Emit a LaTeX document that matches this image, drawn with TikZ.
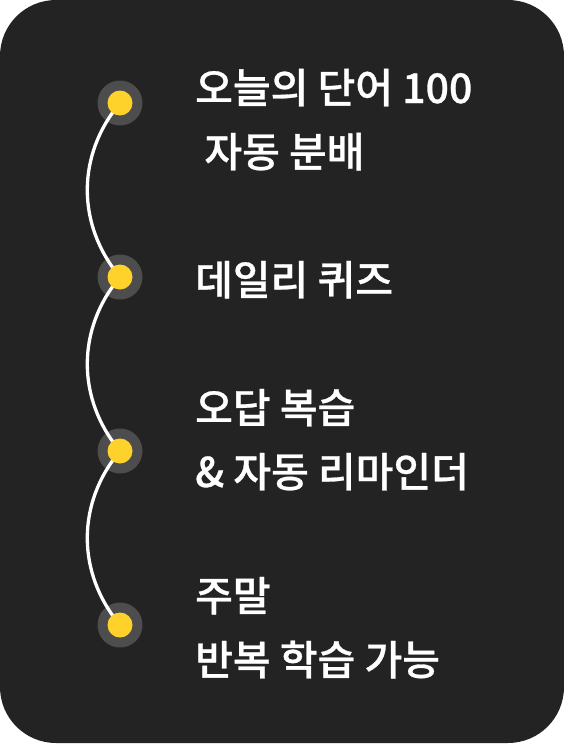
\documentclass[tikz,border=0pt]{standalone}
\usepackage{fontspec}
\newfontfamily\krfont{Noto Sans CJK KR Medium}[FakeBold=0.7]
\usepackage{tikz}
\usetikzlibrary{positioning}
\definecolor{panelbg}{HTML}{232323}
\definecolor{ringgray}{HTML}{4D4D4D}
\definecolor{dotyellow}{HTML}{FFD22B}
\tikzset{
  ring/.style={circle, fill=ringgray, minimum size=45pt, inner sep=0pt},
  dot/.style={circle, fill=dotyellow, minimum size=25pt, inner sep=0pt},
  link/.style={draw=white, line width=3.3pt},
  itemtext/.style={text=white, anchor=base west, align=left, inner sep=0pt,
    font=\krfont\fontsize{41}{64}\selectfont},
}

\begin{document}
\begin{tikzpicture}[x=1pt, y=-1pt]
    % panel
    \fill[white] (0,0) rectangle (564,744);
    \useasboundingbox (0,0) rectangle (564,744);
    \fill[panelbg, rounded corners=56pt] (0,0) rectangle (564,743);

    % rings
    \node[ring] (r1) at (120,103) {};
    \node[ring] (r2) at (120,277) {};
    \node[ring] (r3) at (120,451) {};
    \node[ring] (r4) at (120,625) {};

    % links
    \draw[link] (r1.center) to[bend right=40] (r2.center);
    \draw[link] (r2.center) to[bend right=40] (r3.center);
    \draw[link] (r3.center) to[bend right=40] (r4.center);

    % dots
    \node[dot] (d1) at (r1) {};
    \node[dot] (d2) at (r2) {};
    \node[dot] (d3) at (r3) {};
    \node[dot] (d4) at (r4) {};

    % texts (base = last line)
    \node[itemtext] (t1) at (195,167) {오늘의 단어 100\\\ 자동 분배};
    \node[itemtext] (t2) at (195,295) {데일리 퀴즈};
    \node[itemtext] (t3) at (195,487) {오답 복습\\\& 자동 리마인더};
    \node[itemtext] (t4) at (195,675) {주말\\반복 학습 가능};
\end{tikzpicture}
\end{document}
